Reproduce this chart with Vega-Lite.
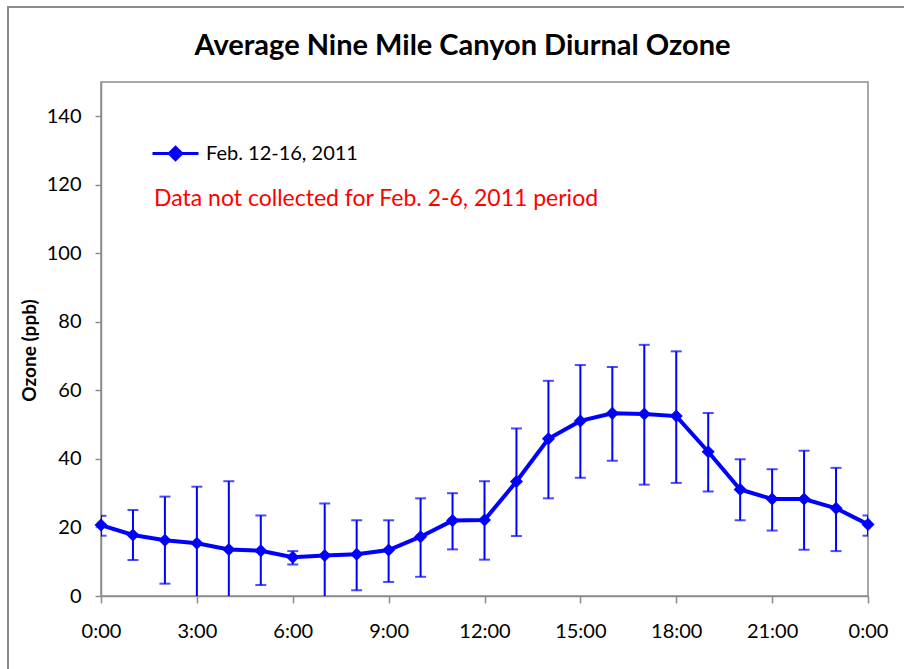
{
  "$schema": "https://vega.github.io/schema/vega-lite/v6.json",
  "autosize": "none",
  "width": 767,
  "height": 514,
  "padding": {"left": 101, "top": 82, "right": 36, "bottom": 73},
  "background": "white",
  "config": {
    "font": "Lato",
    "view": {"stroke": "#8c8c8c", "strokeWidth": 1.5},
    "axis": {"grid": false, "domainColor": "#8c8c8c", "tickColor": "#8c8c8c", "domainWidth": 1.5, "tickWidth": 1.5, "labelColor": "#000", "labelFontSize": 20, "labelFont": "Lato", "tickSize": 6}
  },
  "title": {"text": "Average Nine Mile Canyon Diurnal Ozone", "fontSize": 29, "font": "Lato", "fontWeight": "bold", "color": "#000", "anchor": "middle", "dx": -22, "dy": 75, "offset": 20},
  "datasets": {
    "ozone": [
      {"hour": 0, "ozone": 20.7, "lo": 17.6, "hi": 23.4, "series": "Feb. 12-16, 2011"},
      {"hour": 1, "ozone": 17.8, "lo": 10.5, "hi": 25.1, "series": "Feb. 12-16, 2011"},
      {"hour": 2, "ozone": 16.3, "lo": 3.6, "hi": 29.0, "series": "Feb. 12-16, 2011"},
      {"hour": 3, "ozone": 15.4, "lo": -1.1, "hi": 31.9, "series": "Feb. 12-16, 2011"},
      {"hour": 4, "ozone": 13.6, "lo": -6.3, "hi": 33.5, "series": "Feb. 12-16, 2011"},
      {"hour": 5, "ozone": 13.2, "lo": 3.2, "hi": 23.5, "series": "Feb. 12-16, 2011"},
      {"hour": 6, "ozone": 11.3, "lo": 9.2, "hi": 13.1, "series": "Feb. 12-16, 2011"},
      {"hour": 7, "ozone": 11.8, "lo": -3.4, "hi": 27.0, "series": "Feb. 12-16, 2011"},
      {"hour": 8, "ozone": 12.2, "lo": 1.7, "hi": 22.1, "series": "Feb. 12-16, 2011"},
      {"hour": 9, "ozone": 13.4, "lo": 4.1, "hi": 22.1, "series": "Feb. 12-16, 2011"},
      {"hour": 10, "ozone": 17.3, "lo": 5.6, "hi": 28.5, "series": "Feb. 12-16, 2011"},
      {"hour": 11, "ozone": 22.0, "lo": 13.6, "hi": 30.0, "series": "Feb. 12-16, 2011"},
      {"hour": 12, "ozone": 22.2, "lo": 10.6, "hi": 33.5, "series": "Feb. 12-16, 2011"},
      {"hour": 13, "ozone": 33.4, "lo": 17.5, "hi": 48.9, "series": "Feb. 12-16, 2011"},
      {"hour": 14, "ozone": 45.9, "lo": 28.5, "hi": 62.8, "series": "Feb. 12-16, 2011"},
      {"hour": 15, "ozone": 51.1, "lo": 34.5, "hi": 67.4, "series": "Feb. 12-16, 2011"},
      {"hour": 16, "ozone": 53.3, "lo": 39.5, "hi": 66.8, "series": "Feb. 12-16, 2011"},
      {"hour": 17, "ozone": 53.1, "lo": 32.5, "hi": 73.3, "series": "Feb. 12-16, 2011"},
      {"hour": 18, "ozone": 52.5, "lo": 33.0, "hi": 71.4, "series": "Feb. 12-16, 2011"},
      {"hour": 19, "ozone": 42.1, "lo": 30.5, "hi": 53.4, "series": "Feb. 12-16, 2011"},
      {"hour": 20, "ozone": 31.1, "lo": 22.1, "hi": 39.9, "series": "Feb. 12-16, 2011"},
      {"hour": 21, "ozone": 28.3, "lo": 19.1, "hi": 37.0, "series": "Feb. 12-16, 2011"},
      {"hour": 22, "ozone": 28.3, "lo": 13.5, "hi": 42.4, "series": "Feb. 12-16, 2011"},
      {"hour": 23, "ozone": 25.6, "lo": 13.1, "hi": 37.4, "series": "Feb. 12-16, 2011"},
      {"hour": 24, "ozone": 20.9, "lo": 17.6, "hi": 23.5, "series": "Feb. 12-16, 2011"}
    ],
    "note": [
      {"note": "Data not collected for Feb. 2-6, 2011 period"}
    ]
  },
  "data": {"name": "ozone"},
  "layer": [
    {
      "data": {"values": [{}]},
      "mark": {"type": "rect", "fill": null, "fillOpacity": 0, "stroke": "#8c8c8c", "strokeWidth": 2, "clip": false},
      "encoding": {"x": {"datum": -2.91, "type": "quantitative"}, "x2": {"datum": 25.3}, "y": {"datum": 171.9, "type": "quantitative"}, "y2": {"datum": -24.5}}
    },
    {
      "mark": {"type": "rule", "color": "#0000ff", "strokeWidth": 2, "clip": true},
      "encoding": {
        "x": {"field": "hour", "type": "quantitative", "scale": {"domain": [0, 24], "nice": false},
          "axis": {"values": [0, 3, 6, 9, 12, 15, 18, 21, 24], "title": null, "labelExpr": "(datum.value % 24) + ':00'", "labelPadding": 18, "tickSize": 7, "labelFlush": false}},
        "y": {"field": "lo", "type": "quantitative", "scale": {"domain": [0, 150], "nice": false},
          "axis": {"values": [0, 20, 40, 60, 80, 100, 120, 140], "title": "Ozone (ppb)", "titleFontSize": 19, "titleFont": "Lato", "titleFontWeight": "bold", "titleColor": "#000", "titlePadding": 7, "titleY": 268, "labelPadding": 14, "tickSize": 6}},
        "y2": {"field": "hi"}
      }
    },
    {
      "mark": {"type": "tick", "color": "#0000ff", "thickness": 2, "size": 11, "orient": "horizontal", "clip": true},
      "encoding": {"x": {"field": "hour", "type": "quantitative"}, "y": {"field": "lo", "type": "quantitative"}}
    },
    {
      "mark": {"type": "tick", "color": "#0000ff", "thickness": 2, "size": 11, "orient": "horizontal", "clip": true},
      "encoding": {"x": {"field": "hour", "type": "quantitative"}, "y": {"field": "hi", "type": "quantitative"}}
    },
    {
      "mark": {"type": "line", "strokeWidth": 4, "point": {"shape": "diamond", "size": 170, "filled": true, "opacity": 1}},
      "encoding": {
        "x": {"field": "hour", "type": "quantitative"},
        "y": {"field": "ozone", "type": "quantitative"},
        "color": {"field": "series", "type": "nominal", "scale": {"range": ["#0000ff"]},
          "legend": {"title": null, "orient": "none", "legendX": 50, "legendY": 47, "labelFontSize": 20, "labelFont": "Lato", "labelColor": "#000", "symbolType": "M-1,0L1,0M0,-0.27L0.27,0L0,0.27L-0.27,0Z", "symbolSize": 2116, "symbolStrokeWidth": 3, "symbolFillColor": "#0000ff", "symbolStrokeColor": "#0000ff", "labelOffset": 6}}
      }
    },
    {
      "data": {"name": "note"},
      "mark": {"type": "text", "color": "#ff0000", "fontSize": 23, "font": "Lato", "fontWeight": 400, "align": "left", "baseline": "middle"},
      "encoding": {"text": {"field": "note"}, "x": {"datum": 1.66}, "y": {"datum": 116}}
    }
  ]
}
